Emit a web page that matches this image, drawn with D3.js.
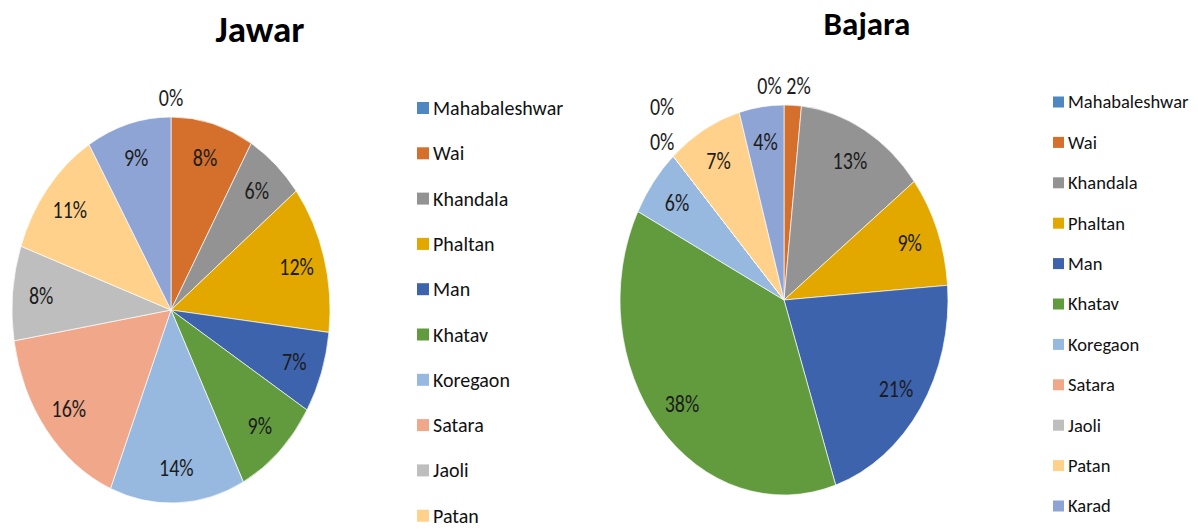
<!DOCTYPE html>
<html>
<head>
<meta charset="utf-8">
<script src="https://cdn.jsdelivr.net/npm/d3@7"></script>
<style>
  body { margin: 0; background: #fff; }
  text { font-family: Carlito, Calibri, "Liberation Sans Narrow", "DejaVu Sans Condensed", sans-serif; }
</style>
</head>
<body>
<div id="chart"></div>
<script>
// ----------- Data ----------
var districts = ["Mahabaleshwar", "Wai", "Khandala", "Phaltan", "Man", "Khatav",
                 "Koregaon", "Satara", "Jaoli", "Patan", "Karad"];
var jawarValues  = [0, 8.4, 6.0, 12.4, 6.8, 8.8, 13.7, 16.2, 7.9, 11.0, 8.6];
var bajaraValues = [0, 1.7, 12.9, 9.2, 21.1, 37.6, 5.7, 0, 0, 7.4, 4.4];
var sliceColors  = ["#4f88c0", "#d46f2c", "#939393", "#e2a800", "#3d63ad", "#629b3e",
                    "#97b9e0", "#f0a78a", "#bebebe", "#ffd18a", "#8ea4d4"];

var W = 1198, H = 529;
var svg = d3.select("#chart")
  .append("svg")
  .attr("width", W)
  .attr("height", H);

var color = d3.scaleOrdinal().domain(districts).range(sliceColors);

function drawPie(title, values, opt) {
  var total = d3.sum(values);
  var pie = d3.pie().sort(null).value(function(d) { return d; });
  var arcs = pie(values);
  var arc = d3.arc().innerRadius(0).outerRadius(opt.rx);

  // pie is drawn as a circle and stretched into an ellipse
  svg.append("g")
     .attr("transform", "translate(" + opt.cx + "," + opt.cy + ") scale(1," + (opt.ry / opt.rx) + ")")
     .selectAll("path")
     .data(arcs)
     .enter().append("path")
     .attr("d", arc)
     .attr("fill", function(d, i) { return color(districts[i]); })
     .attr("stroke", "#fff")
     .attr("stroke-width", 0.6);

  // ---------- labels ----------
  var placed = [];
  var w = 26, h = 20;
  var labels = [];
  arcs.forEach(function(d, i) {
    var pct = d.value / total * 100;
    var a = (d.startAngle + d.endAngle) / 2;
    var outside = pct < 3;
    var k = outside ? 1.1 : 0.82;
    var lab = {
      x: opt.cx + k * opt.rx * Math.sin(a),
      y: opt.cy - k * opt.ry * Math.cos(a),
      text: Math.round(pct) + "%"
    };
    if (outside) {
      // push overlapping outside labels apart
      placed.forEach(function(p) {
        if (Math.abs(p.x - lab.x) < w && Math.abs(p.y - lab.y) < h) {
          if (Math.abs(lab.x - opt.cx) < opt.rx * 0.3) {
            var need = w + 3 - Math.abs(p.x - lab.x);
            p.x -= need * 0.75;
            lab.x += need * 0.25;
          } else {
            lab.y = p.y - h - 15;
          }
        }
      });
      placed.push(lab);
    }
    labels.push(lab);
  });

  // text in the source is a little taller than wide
  svg.append("g").selectAll("text")
     .data(labels)
     .enter().append("text")
     .attr("transform", function(d) { return "translate(" + d.x + "," + d.y + ") scale(1,1.18)"; })
     .attr("text-anchor", "middle")
     .attr("dy", "0.35em")
     .style("font-size", "20px")
     .style("fill", "#1c1c1c")
     .text(function(d) { return d.text; });

  // ---------- title ----------
  svg.append("text")
     .attr("x", opt.titleX)
     .attr("y", opt.titleY)
     .attr("text-anchor", "middle")
     .style("font-size", opt.titleSize + "px")
     .style("font-weight", "bold")
     .style("fill", "#000")
     .text(title);

  // ---------- legend ----------
  // rows that fall below the picture are cut off in the source
  var shown = districts.filter(function(d, i) {
    return opt.legendY + i * opt.legendStep + opt.legendSize / 2 < H;
  });
  var legend = svg.append("g")
     .attr("transform", "translate(" + opt.legendX + "," + opt.legendY + ")");
  var rows = legend.selectAll("g")
     .data(shown)
     .enter().append("g")
     .attr("transform", function(d, i) { return "translate(0," + (i * opt.legendStep) + ")"; });
  rows.append("rect")
     .attr("x", 0)
     .attr("y", -opt.box / 2)
     .attr("width", opt.box)
     .attr("height", opt.box)
     .attr("fill", function(d) { return color(d); });
  rows.append("text")
     .attr("x", opt.box + 4)
     .attr("dy", "0.35em")
     .style("font-size", opt.legendSize + "px")
     .style("fill", "#111")
     .text(function(d) { return d; });
}

drawPie("Jawar", jawarValues, {
  cx: 171, cy: 310, rx: 159, ry: 193,
  titleX: 260, titleY: 42, titleSize: 37,
  legendX: 417, legendY: 108, legendStep: 45.3, box: 12, legendSize: 20
});

drawPie("Bajara", bajaraValues, {
  cx: 784, cy: 300, rx: 164, ry: 195,
  titleX: 867, titleY: 35, titleSize: 33,
  legendX: 1053, legendY: 102, legendStep: 40.4, box: 11, legendSize: 18.5
});
</script>
</body>
</html>
